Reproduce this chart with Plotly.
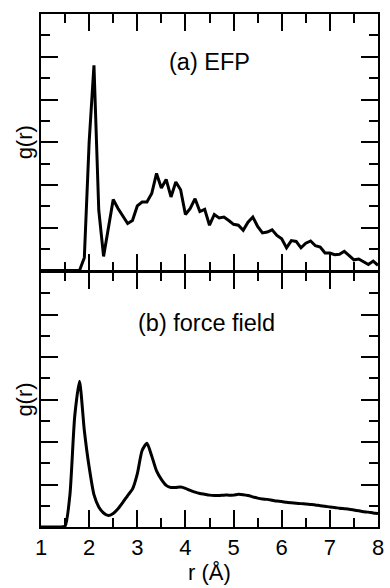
import plotly.graph_objects as go

r = [round(1.0 + 0.1 * i, 1) for i in range(71)]

g_efp = [0, 0, 0, 0, 0, 0, 0, 0, 0,
         0.30, 3.00, 4.80, 1.41, 0.33, 1.00, 1.66, 1.45, 1.28, 1.10, 1.17,
         1.51, 1.60, 1.60, 1.80, 2.27, 1.93, 2.13, 1.72, 2.07, 1.89,
         1.31, 1.45, 1.68, 1.38, 1.43, 1.06, 1.31, 1.23, 1.25, 1.17,
         1.08, 1.06, 0.94, 1.13, 1.25, 1.03, 0.88, 0.90, 0.95, 0.82,
         0.74, 0.53, 0.70, 0.68, 0.53, 0.64, 0.69, 0.58, 0.55, 0.41,
         0.41, 0.37, 0.38, 0.45, 0.35, 0.25, 0.27, 0.20, 0.14, 0.22, 0.12]

g_ff = [0, 0, 0, 0, 0, 0.02,
        0.75, 2.60, 3.43, 2.27, 1.41, 0.76, 0.47, 0.33, 0.27, 0.32, 0.43, 0.58, 0.74, 0.89,
        1.25, 1.80, 1.97, 1.67, 1.32, 1.12, 0.98, 0.93, 0.93, 0.94,
        0.91, 0.86, 0.82, 0.79, 0.77, 0.75, 0.74, 0.74, 0.75, 0.75,
        0.75, 0.77, 0.76, 0.74, 0.71, 0.68, 0.66, 0.65, 0.63, 0.61,
        0.60, 0.58, 0.57, 0.56, 0.55, 0.54, 0.53, 0.52, 0.50, 0.49,
        0.47, 0.46, 0.44, 0.43, 0.42, 0.40, 0.38, 0.36, 0.35, 0.33, 0.32]

x_ticks = [1, 2, 3, 4, 5, 6, 7, 8]
panel_labels = ["(a) EFP", "(b) force field"]

FONT = "Liberation Sans, Arial, Helvetica, sans-serif"

fig = go.Figure()
fig.add_trace(go.Scatter(x=r, y=g_efp, mode="lines", xaxis="x2", yaxis="y2",
                         line=dict(color="black", width=3), showlegend=False))
fig.add_trace(go.Scatter(x=r, y=g_ff, mode="lines", xaxis="x", yaxis="y",
                         line=dict(color="black", width=3, shape="spline", smoothing=0.6),
                         showlegend=False))

axis_common = dict(showgrid=False, zeroline=False, showline=True, linecolor="black",
                   linewidth=1.5, mirror="allticks", ticks="inside", ticklen=17,
                   tickwidth=1.5, tickcolor="black")
minor = dict(ticks="inside", ticklen=9, dtick=0.5, tickwidth=1.5, tickcolor="black")

# plot height 513 px; pull bottom panel's top edge down so both axis lines coincide
gap = 1.5 / 513

fig.update_layout(
    width=390, height=588,
    margin=dict(l=41, r=6, t=14, b=61),
    paper_bgcolor="white", plot_bgcolor="white",
    font=dict(family=FONT, size=22, color="black"),
    xaxis=dict(domain=[0, 1], range=[1, 8], anchor="y", tickvals=x_ticks,
               tickfont=dict(size=22), title=dict(text="r (Å)", font=dict(size=22), standoff=2),
               minor=minor, **axis_common),
    yaxis=dict(domain=[0, 0.5 - gap], range=[0, 6], anchor="x", dtick=1, showticklabels=False,
               title=dict(text="g(r)", font=dict(size=22), standoff=1),
               minor=minor, **axis_common),
    xaxis2=dict(domain=[0, 1], range=[1, 8], anchor="y2", dtick=1, showticklabels=False,
                minor=minor, **axis_common),
    yaxis2=dict(domain=[0.5, 1], range=[0, 6], anchor="x2", dtick=1, showticklabels=False,
                title=dict(text="g(r)", font=dict(size=22), standoff=1),
                minor=minor, **axis_common),
    annotations=[
        dict(text=panel_labels[0], x=4.49, y=4.88, xref="x2", yref="y2",
             showarrow=False, font=dict(size=23.5)),
        dict(text=panel_labels[1], x=4.43, y=4.79, xref="x", yref="y",
             showarrow=False, font=dict(size=23.5)),
    ],
)

fig.write_html("out.html")
